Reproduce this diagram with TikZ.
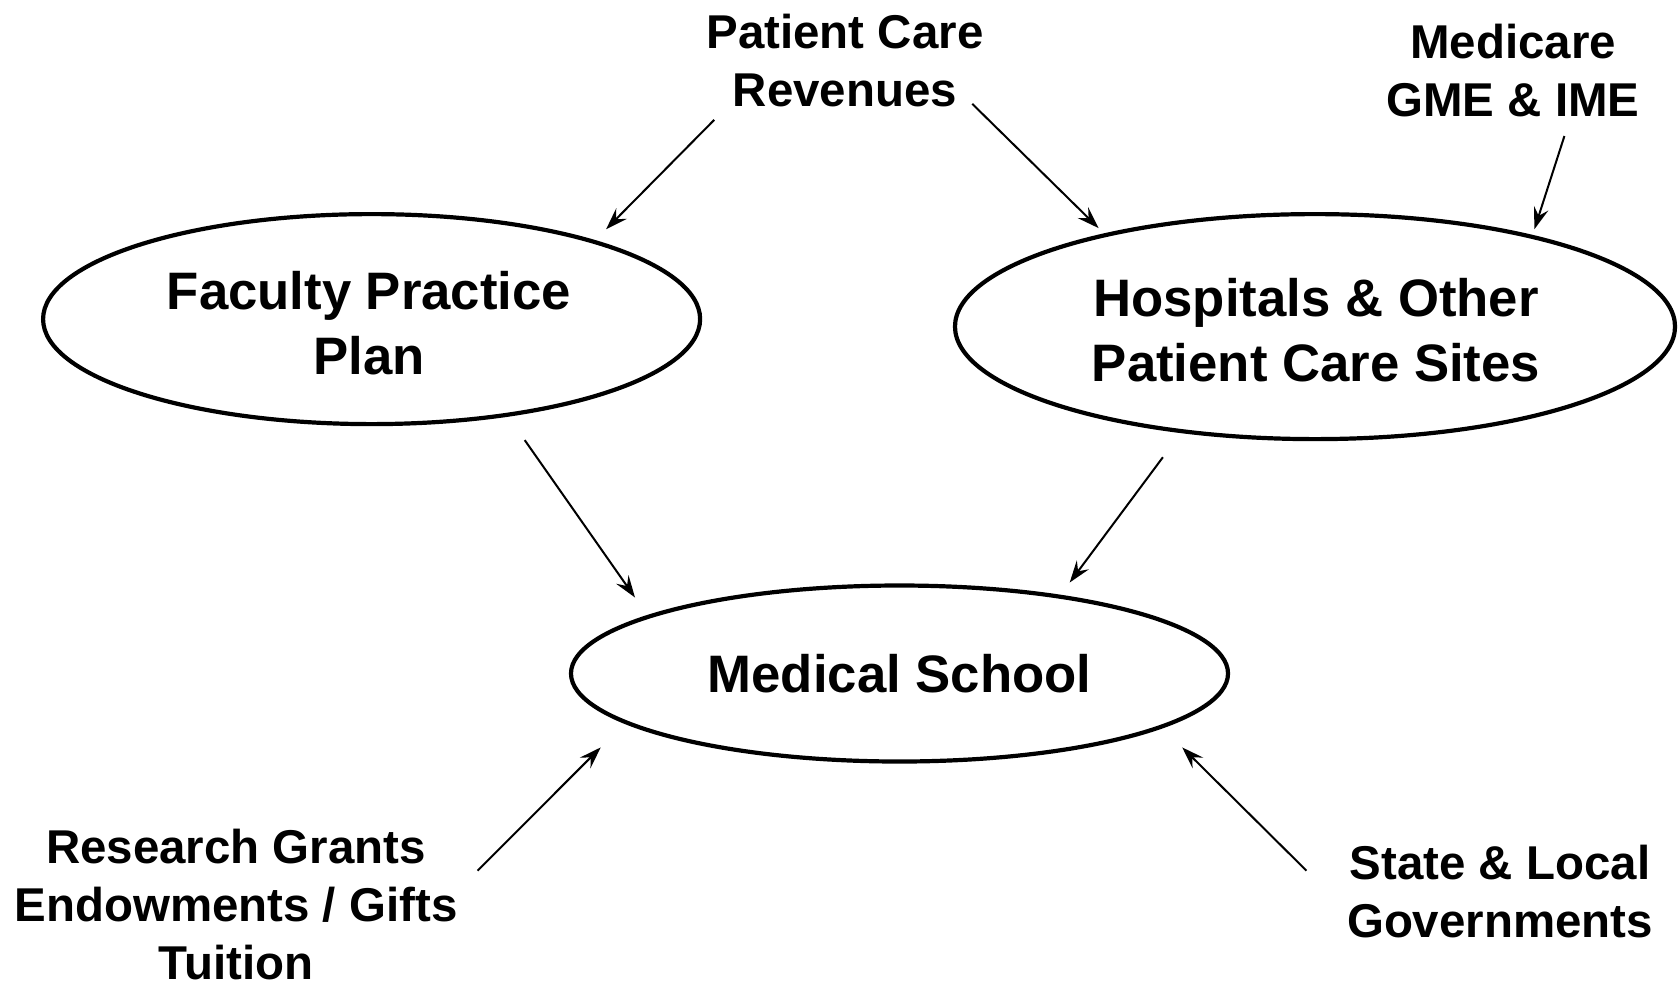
\documentclass[tikz,border=0pt]{standalone}
\usepackage{fontspec}
\setmainfont{Liberation Sans}
\usetikzlibrary{shapes.geometric,arrows.meta}
\begin{document}
\begin{tikzpicture}[x=0.1mm,y=-0.1mm,
  oval/.style={ellipse,draw,line width=0.42mm,inner sep=0pt,align=center,
    font=\fontsize{15}{18.3}\selectfont\bfseries},
  src/.style={align=center,inner sep=0pt,font=\fontsize{13.5}{16.5}\selectfont\bfseries},
  flow/.style={line width=0.2mm,-{Stealth[length=2.2mm,width=1.5mm,inset=0.8mm]}}]
\useasboundingbox (0,0) rectangle (1679,983);
\node[oval,minimum width=657mm*0.1,minimum height=210mm*0.1] (fpp) at (371.6,319.1) {};
\node[align=center,inner sep=0pt,font=\fontsize{15}{18.3}\selectfont\bfseries] (fppt) at (369,323) {Faculty Practice\hspace{1.3mm}\\Plan};
\node[oval,minimum width=720mm*0.1,minimum height=225mm*0.1] (hosp) at (1315,326.6) {};
\node[align=center,inner sep=0pt,font=\fontsize{15}{18.3}\selectfont\bfseries] (hospt) at (1316,330) {Hospitals \& Other\\Patient Care Sites};
\node[oval,minimum width=657mm*0.1,minimum height=176mm*0.1] (ms) at (899.5,673.5) {Medical School};
\node[src] (pcr) at (845,61) {Patient Care\\Revenues};
\node[src] (med) at (1513,71) {Medicare\\GME \& IME};
\node[src] (res) at (236,905) {Research Grants\\Endowments / Gifts\\Tuition};
\node[src] (gov) at (1500,892) {State \& Local\\Governments};
\coordinate (a1s) at (714.2,119.9); \coordinate (a1e) at (606.1,229.2);
\coordinate (a2s) at (972.3,103.9); \coordinate (a2e) at (1098.6,228.1);
\coordinate (a3s) at (1564.4,136.0); \coordinate (a3e) at (1534.4,229.2);
\coordinate (a4s) at (524.7,440.1); \coordinate (a4e) at (635.0,597.5);
\coordinate (a5s) at (1162.9,457.2); \coordinate (a5e) at (1069.7,582.5);
\coordinate (a6s) at (477.6,870.6); \coordinate (a6e) at (600.7,747.4);
\coordinate (a7s) at (1306.4,870.6); \coordinate (a7e) at (1182.2,747.4);
\draw[flow] (a1s) -- (a1e);
\draw[flow] (a2s) -- (a2e);
\draw[flow] (a3s) -- (a3e);
\draw[flow] (a4s) -- (a4e);
\draw[flow] (a5s) -- (a5e);
\draw[flow] (a6s) -- (a6e);
\draw[flow] (a7s) -- (a7e);
\end{tikzpicture}
\end{document}
